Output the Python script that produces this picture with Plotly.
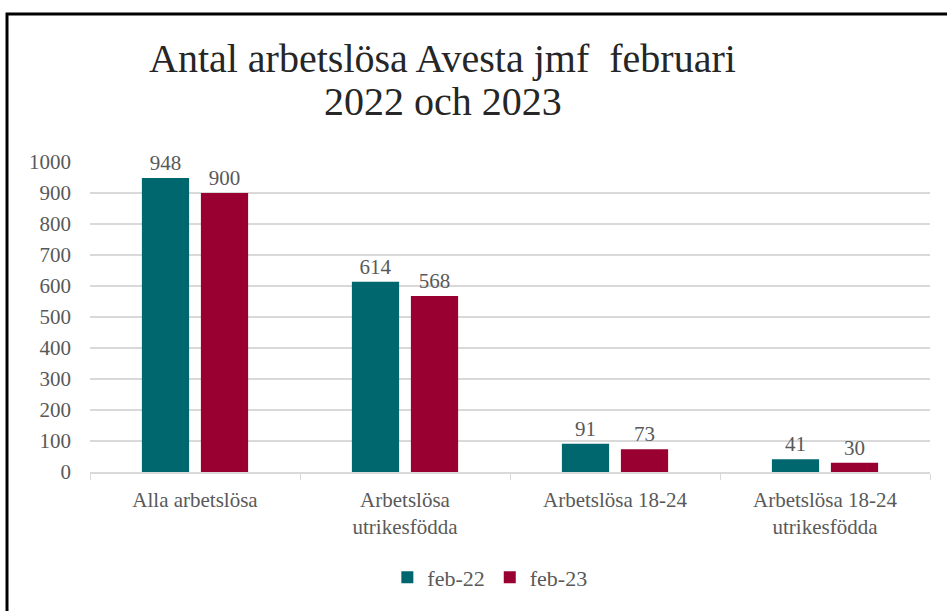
import plotly.graph_objects as go

categories = ["Alla arbetslösa", "Arbetslösa<br>utrikesfödda", "Arbetslösa 18-24", "Arbetslösa 18-24<br>utrikesfödda"]
series_names = ["feb-22", "feb-23"]
feb22 = [948, 614, 91, 41]
feb23 = [900, 568, 73, 30]
colors = ["#00676F", "#990031"]
tick_vals = [0, 100, 200, 300, 400, 500, 600, 700, 800, 900, 1000]
title_lines = ["Antal arbetslösa Avesta jmf  februari", "2022 och 2023"]

FONT = "Liberation Serif"
GRAY = "#595959"

fig = go.Figure()
for name, vals, col in zip(series_names, [feb22, feb23], colors):
    fig.add_trace(go.Bar(
        x=categories, y=vals, name=name,
        marker=dict(color=col, line=dict(width=0)),
        text=[str(v) for v in vals], textposition="outside",
        textfont=dict(family=FONT, size=21, color=GRAY),
        cliponaxis=False,
    ))

fig.update_layout(
    width=947, height=611,
    margin=dict(l=90, r=17, t=162, b=135),
    paper_bgcolor="white", plot_bgcolor="white",
    barmode="group", bargap=0.438, bargroupgap=0.2,
    font=dict(family=FONT, color=GRAY),
    showlegend=True,
    legend=dict(orientation="h", x=0.476, xanchor="center", y=-0.34, yanchor="middle",
                font=dict(family=FONT, size=22, color=GRAY), traceorder="normal"),
    xaxis=dict(showline=True, linecolor="#d9d9d9", linewidth=1.5,
               ticks="outside", tickson="boundaries", ticklen=6, tickcolor="#d9d9d9",
               ticklabelstandoff=8,
               tickfont=dict(family=FONT, size=21, color=GRAY), showgrid=False),
    yaxis=dict(range=[0, 1000], tickvals=tick_vals, showgrid=True, gridcolor="#d9d9d9",
               gridwidth=1.5, zeroline=False, showline=False,
               tickfont=dict(family=FONT, size=21, color=GRAY), ticklabelstandoff=18),
    annotations=[
        dict(text=title_lines[0], xref="paper", yref="paper", x=0.4202, y=1.3333,
             xanchor="center", yanchor="middle", showarrow=False,
             font=dict(family=FONT, size=40, color="#262626")),
        dict(text=title_lines[1], xref="paper", yref="paper", x=0.4202, y=1.1955,
             xanchor="center", yanchor="middle", showarrow=False,
             font=dict(family=FONT, size=40, color="#262626")),
    ],
    shapes=[dict(type="rect", xref="paper", yref="paper",
                 x0=-0.0988, x1=1.2, y0=-0.6, y1=1.4776,
                 line=dict(color="black", width=3), layer="above")],
)

fig.write_html("out.html", config={"displayModeBar": False},
               post_script="document.body.style.margin='0';document.body.style.overflow='hidden';")
